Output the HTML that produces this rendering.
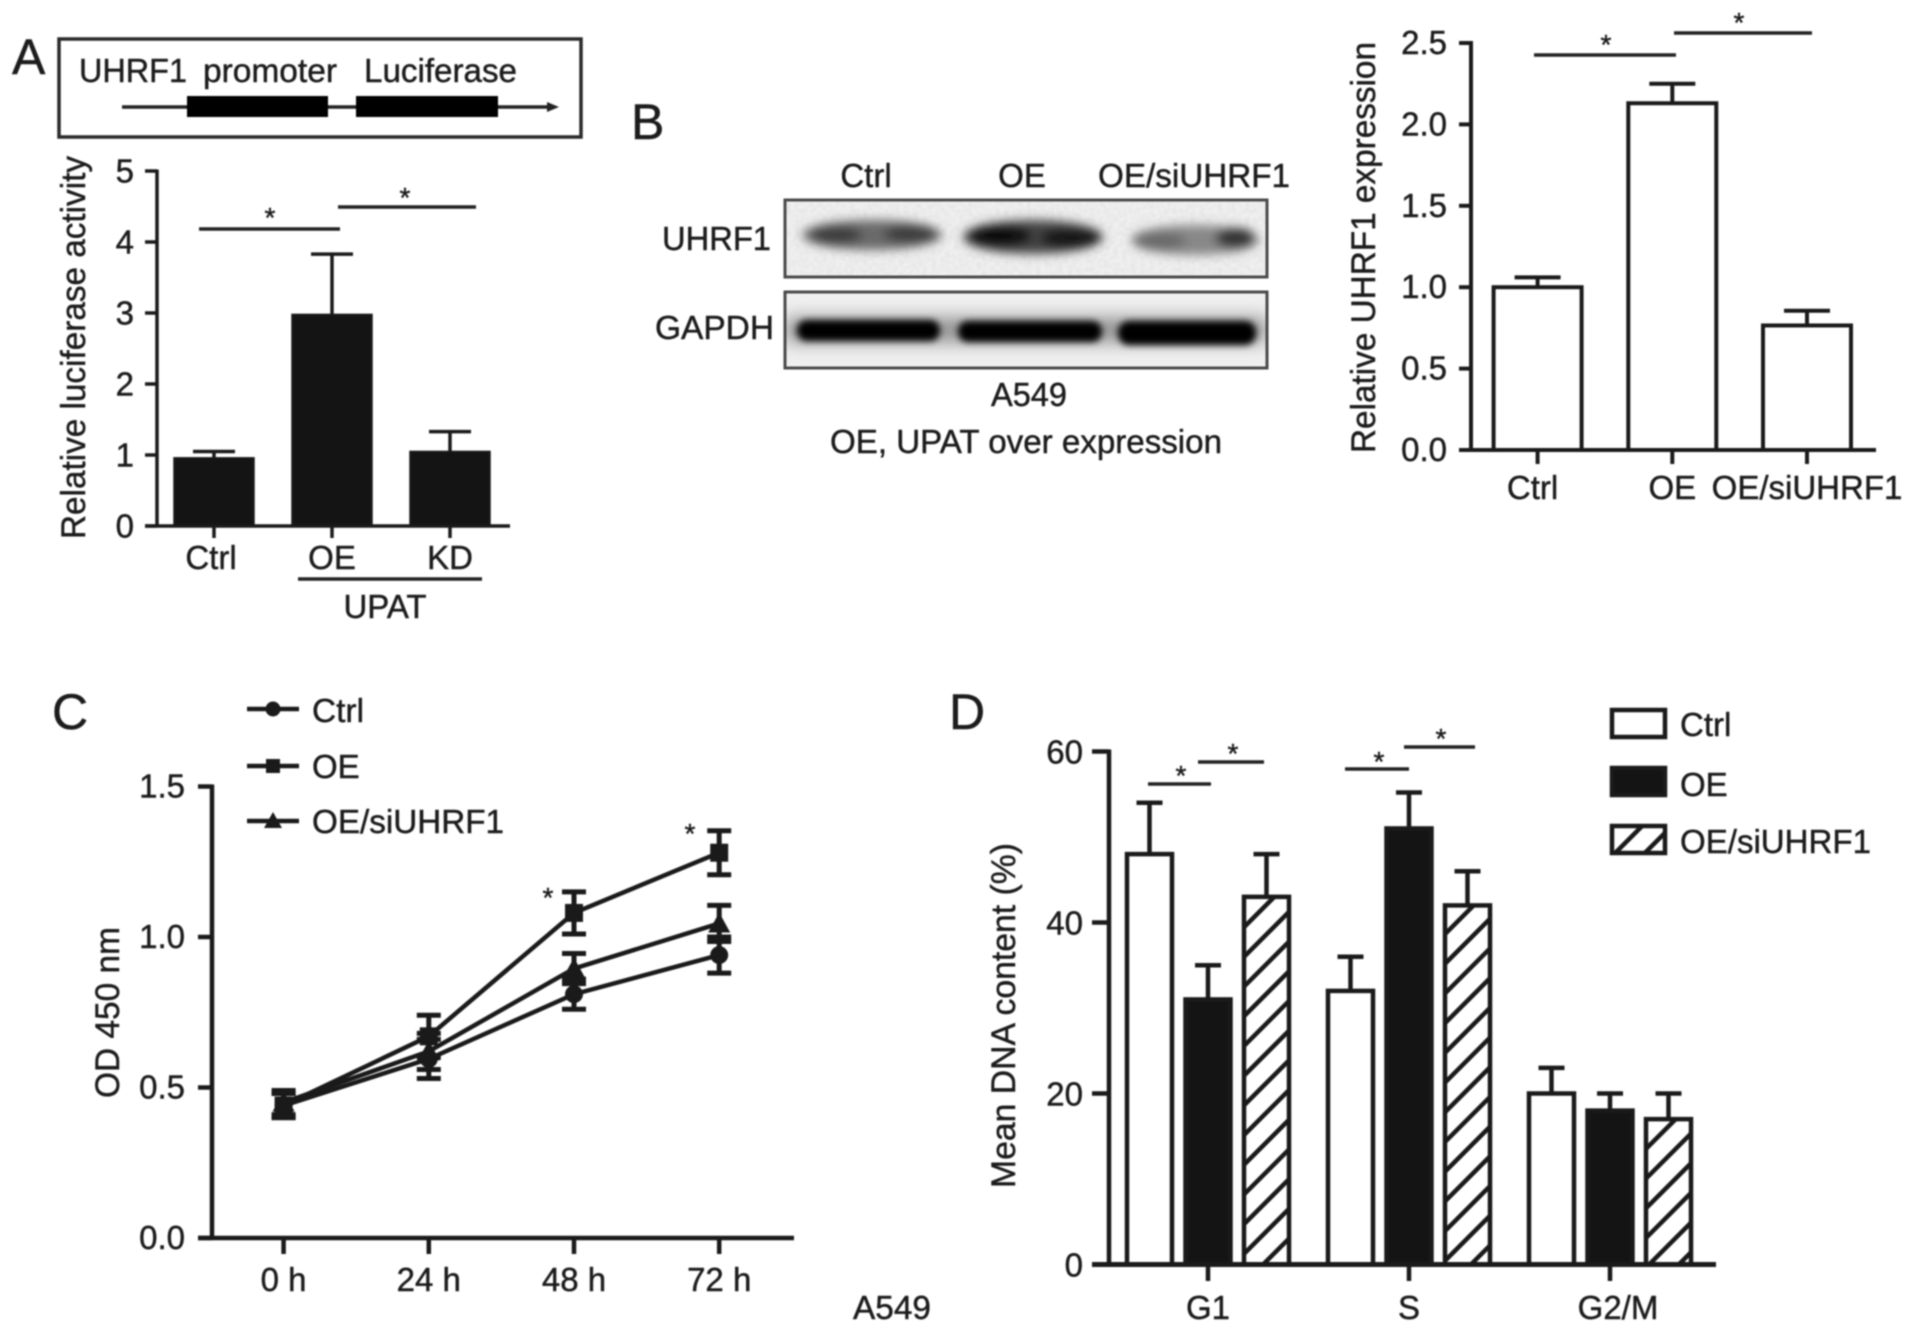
<!DOCTYPE html>
<html>
<head>
<meta charset="utf-8">
<title>UHRF1 figure</title>
<style>
html,body{margin:0;padding:0;background:#fff;width:1913px;height:1333px;overflow:hidden}
svg{display:block;filter:blur(0.85px)}
text{font-family:"Liberation Sans",sans-serif;font-size:33px;fill:#1c1c1c;stroke:#1c1c1c;stroke-width:0.45px}
.letter{font-size:50px}
.title{font-size:34.5px}
</style>
</head>
<body>
<svg id="fig" xmlns="http://www.w3.org/2000/svg" width="1913" height="1333" viewBox="0 0 1913 1333">
<defs>
<pattern id="hatch" patternUnits="userSpaceOnUse" width="21" height="21" patternTransform="rotate(45)">
<rect width="21" height="21" fill="#fff"/><rect width="4.5" height="21" fill="#1a1a1a"/>
</pattern>
<filter id="b3" x="-30%" y="-100%" width="160%" height="300%"><feGaussianBlur stdDeviation="5"/></filter>
<filter id="b2" x="-30%" y="-100%" width="160%" height="300%"><feGaussianBlur stdDeviation="3.4"/></filter>
<filter id="b9" x="-30%" y="-150%" width="160%" height="400%"><feGaussianBlur stdDeviation="9"/></filter>
<filter id="noise" x="0" y="0" width="100%" height="100%"><feTurbulence type="fractalNoise" baseFrequency="0.22" numOctaves="2" seed="4"/><feColorMatrix type="matrix" values="0 0 0 0 0.65 0 0 0 0 0.65 0 0 0 0 0.65 1.3 0 0 0 -0.45"/></filter>
<clipPath id="clip1"><rect x="785" y="200" width="482" height="77"/></clipPath>
<clipPath id="clip2"><rect x="785" y="292" width="482" height="76"/></clipPath>
</defs>
<rect width="1913" height="1333" fill="#fff"/>

<!-- Panel letters -->
<text class="letter" x="12" y="74">A</text>
<text class="letter" x="631" y="139">B</text>
<text class="letter" x="52" y="729">C</text>
<text class="letter" x="949" y="729">D</text>

<!-- Panel A construct -->
<g>
<rect x="59" y="39" width="522" height="98" fill="#fff" stroke="#2a2a2a" stroke-width="3.5"/>
<text x="79" y="82" textLength="108" lengthAdjust="spacingAndGlyphs">UHRF1</text>
<text x="203" y="82" textLength="134" lengthAdjust="spacingAndGlyphs">promoter</text>
<text x="364" y="82" textLength="153" lengthAdjust="spacingAndGlyphs">Luciferase</text>
<line x1="122" y1="107" x2="550" y2="107" stroke="#222" stroke-width="3.5"/>
<polygon points="547,102 559,107 547,112" fill="#222"/>
<rect x="187" y="96" width="141" height="21" fill="#000"/>
<rect x="356" y="96" width="142" height="21" fill="#000"/>
</g>

<text class="title" transform="translate(85,539) rotate(-90)" textLength="383" lengthAdjust="spacingAndGlyphs">Relative luciferase activity</text>
<line x1="298" y1="579" x2="482" y2="579" stroke="#222" stroke-width="3.5"/>
<text x="385" y="618" text-anchor="middle">UPAT</text>
<line x1="199" y1="229" x2="340" y2="229" stroke="#222" stroke-width="3.5"/>
<text x="270" y="227" text-anchor="middle" style="font-size:28px">*</text>
<line x1="338" y1="207" x2="476" y2="207" stroke="#222" stroke-width="3.5"/>
<text x="405" y="207" text-anchor="middle" style="font-size:28px">*</text>

<!-- Panel B blot -->
<g>
<text x="866" y="187" text-anchor="middle">Ctrl</text>
<text x="1022" y="187" text-anchor="middle">OE</text>
<text x="1098" y="187" textLength="192" lengthAdjust="spacingAndGlyphs">OE/siUHRF1</text>
<text x="662" y="250" textLength="109" lengthAdjust="spacingAndGlyphs">UHRF1</text>
<text x="655" y="339" textLength="119" lengthAdjust="spacingAndGlyphs">GAPDH</text>
<g clip-path="url(#clip1)">
<rect x="785" y="200" width="482" height="77" fill="#efefef"/>
<rect x="785" y="200" width="482" height="77" filter="url(#noise)" opacity="0.55"/>
<g filter="url(#b3)">
<ellipse cx="872" cy="235" rx="70" ry="15" fill="#6a6a6a"/>
<ellipse cx="836" cy="235" rx="26" ry="9" fill="#3c3c3c"/>
<ellipse cx="910" cy="234" rx="26" ry="9" fill="#3c3c3c"/>
<ellipse cx="1033" cy="237" rx="70" ry="17" fill="#444"/>
<ellipse cx="1000" cy="236" rx="32" ry="11" fill="#0c0c0c"/>
<ellipse cx="1070" cy="238" rx="30" ry="10" fill="#181818"/>
<ellipse cx="1195" cy="240" rx="64" ry="15" fill="#888"/>
<ellipse cx="1160" cy="241" rx="26" ry="9" fill="#6a6a6a"/>
<ellipse cx="1235" cy="238" rx="20" ry="10" fill="#333"/>
</g>
</g>
<rect x="785" y="200" width="482" height="77" fill="none" stroke="#4a4a4a" stroke-width="3"/>
<g clip-path="url(#clip2)">
<rect x="785" y="292" width="482" height="76" fill="#f0f0f0"/>
<rect x="785" y="318" width="482" height="24" fill="#8c8c8c" filter="url(#b9)"/>
<g filter="url(#b2)">
<rect x="797" y="320" width="143" height="21" rx="10" fill="#000"/>
<rect x="958" y="321" width="144" height="21" rx="10" fill="#000"/>
<rect x="1118" y="321" width="138" height="24" rx="11" fill="#000"/>
</g>
</g>
<rect x="785" y="292" width="482" height="76" fill="none" stroke="#4a4a4a" stroke-width="3"/>
<text x="991" y="406" textLength="76" lengthAdjust="spacingAndGlyphs">A549</text>
<text x="830" y="453" textLength="392" lengthAdjust="spacingAndGlyphs">OE, UPAT over expression</text>
</g>

<text class="title" transform="translate(1375,453) rotate(-90)" textLength="411" lengthAdjust="spacingAndGlyphs">Relative UHRF1 expression</text>
<line x1="1534" y1="55" x2="1676" y2="55" stroke="#222" stroke-width="3.5"/>
<text x="1606" y="54" text-anchor="middle" style="font-size:28px">*</text>
<line x1="1674" y1="33" x2="1812" y2="33" stroke="#222" stroke-width="3.5"/>
<text x="1739" y="32" text-anchor="middle" style="font-size:28px">*</text>

<!-- Panel C static -->
<text class="title" transform="translate(119,1098) rotate(-90)" textLength="171" lengthAdjust="spacingAndGlyphs">OD 450 nm</text>
<text x="853" y="1319" textLength="78" lengthAdjust="spacingAndGlyphs">A549</text>
<text x="548" y="907" text-anchor="middle" style="font-size:28px">*</text>
<text x="690" y="843" text-anchor="middle" style="font-size:28px">*</text>
<g>
<g>
<line x1="247" y1="709" x2="299" y2="709" stroke="#1a1a1a" stroke-width="4.5"/><circle cx="273" cy="709" r="7.5" fill="#1a1a1a"/>
<text x="312" y="722" textLength="52" lengthAdjust="spacingAndGlyphs">Ctrl</text></g>
<g>
<line x1="247" y1="766" x2="299" y2="766" stroke="#1a1a1a" stroke-width="4.5"/><rect x="266" y="759" width="14" height="14" fill="#1a1a1a"/>
<text x="312" y="778">OE</text></g>
<g>
<line x1="247" y1="821" x2="299" y2="821" stroke="#1a1a1a" stroke-width="4.5"/><polygon points="273,812 282,828 264,828" fill="#1a1a1a"/>
<text x="312" y="833" textLength="192" lengthAdjust="spacingAndGlyphs">OE/siUHRF1</text></g>
</g>

<!-- Panel D static -->
<text class="title" transform="translate(1015,1188) rotate(-90)" textLength="345" lengthAdjust="spacingAndGlyphs">Mean DNA content (%)</text>
<g>
<line x1="1148" y1="784" x2="1211" y2="784" stroke="#222" stroke-width="3.5"/>
<text x="1181" y="785" text-anchor="middle" style="font-size:28px">*</text>
<line x1="1198" y1="762" x2="1264" y2="762" stroke="#222" stroke-width="3.5"/>
<text x="1233" y="763" text-anchor="middle" style="font-size:28px">*</text>
<line x1="1345" y1="769" x2="1409" y2="769" stroke="#222" stroke-width="3.5"/>
<text x="1379" y="771" text-anchor="middle" style="font-size:28px">*</text>
<line x1="1404" y1="747" x2="1475" y2="747" stroke="#222" stroke-width="3.5"/>
<text x="1441" y="748" text-anchor="middle" style="font-size:28px">*</text>
</g>
<g>
<g><rect x="1612" y="710" width="53" height="27" fill="#fff" stroke="#1a1a1a" stroke-width="4.5"/><text x="1680" y="736">Ctrl</text></g>
<g><rect x="1612" y="768" width="53" height="27" fill="#141414" stroke="#1a1a1a" stroke-width="4.5"/><text x="1680" y="796">OE</text></g>
<g><rect x="1612" y="826" width="53" height="27" fill="url(#hatch)" stroke="#1a1a1a" stroke-width="4.5"/><text x="1680" y="853" textLength="191" lengthAdjust="spacingAndGlyphs">OE/siUHRF1</text></g>
</g>
</svg>

<script>
// Panel A data
const aCategories = ['Ctrl', 'OE', 'KD'];
const aValues = [0.96, 2.98, 1.05];
const aErrors = [0.09, 0.85, 0.28];
const aTicks = ['0', '1', '2', '3', '4', '5'];

// Panel B data
const bCategories = ['Ctrl', 'OE', 'OE/siUHRF1'];
const bValues = [1.0, 2.13, 0.765];
const bErrors = [0.06, 0.12, 0.09];
const bTicks = ['0.0', '0.5', '1.0', '1.5', '2.0', '2.5'];

// Panel C data
const cTimes = ['0 h', '24 h', '48 h', '72 h'];
const cCtrlValues = [0.44, 0.595, 0.81, 0.94];
const cOeValues = [0.44, 0.67, 1.08, 1.28];
const cSiValues = [0.45, 0.62, 0.895, 1.045];
const cCtrlErrors = [0.04, 0.065, 0.05, 0.06];
const cOeErrors = [0.04, 0.07, 0.07, 0.073];
const cSiErrors = [0.04, 0.06, 0.05, 0.06];
const cTicks = ['0.0', '0.5', '1.0', '1.5'];

// Panel D data
const dPhases = ['G1', 'S', 'G2/M'];
const dCtrlValues = [48, 32, 20];
const dOeValues = [31, 51, 18];
const dSiValues = [43, 42, 17];
const dCtrlErrors = [6, 4, 3];
const dOeErrors = [4, 4.2, 2];
const dSiErrors = [5, 4, 3];
const dTicks = ['0', '20', '40', '60'];

const svg = document.getElementById('fig');
const NS = 'http://www.w3.org/2000/svg';
const INK = '#1a1a1a';

function line(x1, y1, x2, y2, w, name) {
  const el = document.createElementNS(NS, 'line');
  el.setAttribute('x1', x1);
  el.setAttribute('y1', y1);
  el.setAttribute('x2', x2);
  el.setAttribute('y2', y2);
  el.setAttribute('stroke', INK);
  el.setAttribute('stroke-width', w);
  
  
  svg.appendChild(el);
  return el;
}
function label(x, y, str, anchor, name) {
  const el = document.createElementNS(NS, 'text');
  el.setAttribute('x', x);
  el.setAttribute('y', y);
  el.setAttribute('text-anchor', anchor);
  el.textContent = str;
  
  
  svg.appendChild(el);
  return el;
}
function bar(cx, w, yTop, yBase, fill, sw, name) {
  const el = document.createElementNS(NS, 'rect');
  el.setAttribute('x', cx - w / 2);
  el.setAttribute('y', yTop);
  el.setAttribute('width', w);
  el.setAttribute('height', Math.max(0, yBase - yTop));
  el.setAttribute('fill', fill);
  el.setAttribute('stroke', INK);
  el.setAttribute('stroke-width', sw);
  
  
  svg.appendChild(el);
  return el;
}
function errorBar(x, yFrom, yTo, half, w, name) {
  line(x, yFrom, x, yTo, w, name + '-stem');
  line(x - half, yTo, x + half, yTo, w, name + '-cap');
}

// ---- Panel A ----
const yA = v => 526 - v * 71;
const xA = i => 214 + i * 118;
aValues.forEach((v, i) => {
  const top = yA(v);
  errorBar(xA(i), top, yA(v + aErrors[i]), 21, 3.5, 'a-error-' + aCategories[i].toLowerCase());
  bar(xA(i), 80, top, yA(0), '#141414', 1.5, 'a-bar-' + aCategories[i].toLowerCase());
  line(xA(i), yA(0), xA(i), 538, 3.5, 'a-x-tick-' + aCategories[i].toLowerCase());
  label(xA(i) - (i === 0 ? 3 : 0), 569, aCategories[i], 'middle', 'a-x-label-' + aCategories[i].toLowerCase());
});
line(157, yA(5) - 1.5, 157, yA(0), 3.5, 'a-y-axis');
line(145, yA(0), 510, yA(0), 3.5, 'a-x-axis');
aTicks.forEach(t => {
  line(145, yA(+t), 157, yA(+t), 3.5, 'a-y-tick-' + t);
  label(134, yA(+t) + 11.5, t, 'end', 'a-y-label-' + t);
});

// ---- Panel B chart ----
const yB = v => 450 - v * 162.8;
const xB = i => 1537.6 + i * 134.7;
bValues.forEach((v, i) => {
  const top = yB(v);
  const key = bCategories[i].toLowerCase().replace('/', '-');
  errorBar(xB(i), top, yB(v + bErrors[i]), 23, 4, 'b-error-' + key);
  bar(xB(i), 88, top, yB(0), '#fff', 4, 'b-bar-' + key);
  line(xB(i), yB(0), xB(i), 464, 4, 'b-x-tick-' + key);
  label(xB(i) - (i === 0 ? 5 : 0), 499, bCategories[i], 'middle', 'b-x-label-' + key);
});
line(1471, yB(2.5) - 2, 1471, yB(0), 4, 'b-y-axis');
line(1459, yB(0), 1876, yB(0), 4, 'b-x-axis');
bTicks.forEach(t => {
  line(1459, yB(+t), 1471, yB(+t), 4, 'b-y-tick-' + t);
  label(1447, yB(+t) + 11, t, 'end', 'b-y-label-' + t);
});

// ---- Panel C chart ----
const yC = v => 1238 - v * 301;
const xC = i => 283.6 + i * 145.2;
function drawSeries(values, errors, shape, key) {
  values.forEach((v, i) => {
    const x = xC(i);
    line(x, yC(v - errors[i]), x, yC(v + errors[i]), 5, 'c-error-' + key + '-' + i);
    line(x - 12, yC(v + errors[i]), x + 12, yC(v + errors[i]), 5, 'c-error-top-' + key + '-' + i);
    line(x - 12, yC(v - errors[i]), x + 12, yC(v - errors[i]), 5, 'c-error-bottom-' + key + '-' + i);
  });
  const path = document.createElementNS(NS, 'polyline');
  path.setAttribute('points', values.map((v, i) => xC(i) + ',' + yC(v)).join(' '));
  path.setAttribute('fill', 'none');
  path.setAttribute('stroke', INK);
  path.setAttribute('stroke-width', 4.5);
  
  
  svg.appendChild(path);
  values.forEach((v, i) => {
    const x = xC(i), y = yC(v);
    let m;
    if (shape === 'circle') {
      m = document.createElementNS(NS, 'circle');
      m.setAttribute('cx', x);
      m.setAttribute('cy', y);
      m.setAttribute('r', 9);
    } else if (shape === 'square') {
      m = document.createElementNS(NS, 'rect');
      m.setAttribute('x', x - 9);
      m.setAttribute('y', y - 9);
      m.setAttribute('width', 18);
      m.setAttribute('height', 18);
    } else {
      m = document.createElementNS(NS, 'polygon');
      m.setAttribute('points', x + ',' + (y - 11) + ' ' + (x + 11) + ',' + (y + 9) + ' ' + (x - 11) + ',' + (y + 9));
    }
    m.setAttribute('fill', INK);
    
    
    svg.appendChild(m);
  });
}
drawSeries(cCtrlValues, cCtrlErrors, 'circle', 'ctrl');
drawSeries(cSiValues, cSiErrors, 'triangle', 'oe-siuhrf1');
drawSeries(cOeValues, cOeErrors, 'square', 'oe');
line(212, yC(1.5) - 2, 212, yC(0), 4.5, 'c-y-axis');
line(198, yC(0), 794, yC(0), 4.5, 'c-x-axis');
cTicks.forEach(t => {
  line(198, yC(+t), 212, yC(+t), 4.5, 'c-y-tick-' + t);
  label(185, yC(+t) + 11, t, 'end', 'c-y-label-' + t);
});
cTimes.forEach((t, i) => {
  line(xC(i), yC(0), xC(i), 1254, 4.5, 'c-x-tick-' + i);
  label(xC(i), 1291, t, 'middle', 'c-x-label-' + i);
});

// ---- Panel D chart ----
const yD = v => 1264.5 - v * 8.55;
const xD = i => 1208 + i * 201;
const dSeries = [
  { values: dCtrlValues, errors: dCtrlErrors, fill: '#fff', key: 'ctrl', offset: -58.5 },
  { values: dOeValues, errors: dOeErrors, fill: '#141414', key: 'oe', offset: 0 },
  { values: dSiValues, errors: dSiErrors, fill: 'url(#hatch)', key: 'oe-siuhrf1', offset: 58.5 }
];
dSeries.forEach(s => {
  s.values.forEach((v, i) => {
    const cx = xD(i) + s.offset;
    const phase = dPhases[i].toLowerCase().replace('/', '-');
    errorBar(cx, yD(v), yD(v + s.errors[i]), 13, 4.5, 'd-error-' + phase + '-' + s.key);
    bar(cx, 45, yD(v), yD(0), s.fill, 4.5, 'd-bar-' + phase + '-' + s.key);
  });
});
line(1109, yD(60) - 2, 1109, yD(0), 4.5, 'd-y-axis');
line(1092, yD(0), 1716, yD(0), 5, 'd-x-axis');
dTicks.forEach(t => {
  line(1092, yD(+t), 1109, yD(+t), 4.5, 'd-y-tick-' + t);
  label(1083, yD(+t) + 12, t, 'end', 'd-y-label-' + t);
});
dPhases.forEach((p, i) => {
  const key = p.toLowerCase().replace('/', '-');
  line(xD(i), yD(0), xD(i), 1281, 4.5, 'd-x-tick-' + key);
  label(xD(i) + (i === 2 ? 8 : 0), 1319, p, 'middle', 'd-x-label-' + key);
});
</script>
</body>
</html>
